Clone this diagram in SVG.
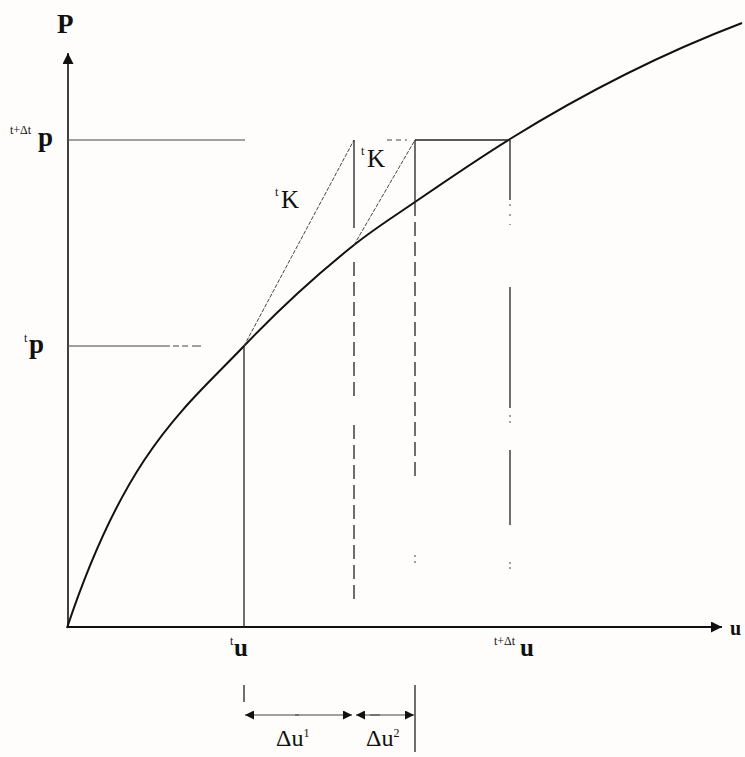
<svg xmlns="http://www.w3.org/2000/svg" width="745" height="757" viewBox="0 0 745 757">
<defs>
<style>
.ax{stroke:#111;fill:none}
.thin{stroke:#444;stroke-width:1;fill:none}
.tan{stroke:#444;stroke-width:1;fill:none;stroke-dasharray:4 1.5}
.dash{stroke:#222;stroke-width:1.3;fill:none;stroke-dasharray:14 6}
.solid{stroke:#222;stroke-width:1.3;fill:none}
.lbl{font-family:"Liberation Serif","DejaVu Serif",serif;fill:#111}
.big{font-size:27px;font-weight:bold}
.sup{font-size:12px}
</style>
<marker id="arr" viewBox="0 0 10 10" refX="10" refY="5" markerWidth="10" markerHeight="9" markerUnits="userSpaceOnUse" orient="auto">
<path d="M0,0 L10,5 L0,10 Z" fill="#111"/>
</marker>
<marker id="arrBig" viewBox="0 0 10 10" refX="10" refY="5" markerWidth="15" markerHeight="11" markerUnits="userSpaceOnUse" orient="auto">
<path d="M0,0 L10,5 L0,10 Z" fill="#111"/>
</marker>
</defs>
<rect width="745" height="757" fill="#fffdfb"/>

<g id="axes">
<line class="ax" x1="68" y1="628" x2="68" y2="53" stroke-width="1.6" marker-end="url(#arrBig)"/>
<line class="ax" x1="68" y1="627" x2="722" y2="627" stroke-width="2.2" marker-end="url(#arrBig)"/>
</g>

<g id="curve">
<path class="ax" stroke-width="2" d="M67,628 C126,451 185,408 244,346 C280.7,307.5 317.3,274.3 354,245 C374.3,228.7 394.7,216 415,202 C446.7,180.2 478.3,158.6 510,139 C587.3,91.1 664.7,52.4 742,23"/>
</g>

<g id="connectors">
<line class="thin" x1="68" y1="140" x2="245" y2="140"/>
<line class="thin" x1="68" y1="346" x2="170" y2="346"/>
<line class="thin" x1="173" y1="346" x2="188" y2="346" stroke-dasharray="6 3"/>
<line class="thin" x1="192" y1="346" x2="201" y2="346"/>
<line class="solid" x1="244" y1="346" x2="244" y2="627"/>
<line class="tan" x1="244" y1="346" x2="354" y2="140"/>
<line class="solid" x1="354" y1="140" x2="354" y2="228"/>
<line class="dash" x1="354" y1="262" x2="354" y2="400"/>
<line class="dash" x1="354" y1="425" x2="354" y2="600"/>
<line class="tan" x1="354" y1="245" x2="415" y2="140"/>
<line class="thin" x1="387" y1="140" x2="407" y2="140" stroke-dasharray="5 4"/>
<line class="solid" x1="415" y1="140" x2="510" y2="140"/>
<line class="solid" x1="415" y1="140" x2="415" y2="202"/>
<line class="dash" x1="415" y1="202" x2="415" y2="482"/>
<line class="thin" x1="415" y1="555" x2="415" y2="565" stroke-dasharray="2 4"/>
<line class="solid" x1="510" y1="140" x2="510" y2="200"/>
<line class="thin" x1="510" y1="204" x2="510" y2="225" stroke-dasharray="2 8"/>
<line class="solid" x1="510" y1="287" x2="510" y2="408"/>
<line class="thin" x1="510" y1="415" x2="510" y2="425" stroke-dasharray="2 4"/>
<line class="solid" x1="510" y1="450" x2="510" y2="525"/>
<line class="thin" x1="510" y1="562" x2="510" y2="572" stroke-dasharray="2 3"/>
<line class="solid" x1="244" y1="685" x2="244" y2="702"/>
<line class="solid" x1="415" y1="685" x2="415" y2="752"/>
<line class="thin" x1="299" y1="715" x2="245" y2="715" stroke-width="1.3" marker-end="url(#arr)"/>
<line class="thin" x1="295" y1="715" x2="352" y2="715" stroke-width="1.3" marker-end="url(#arr)"/>
<line class="thin" x1="380" y1="715" x2="356" y2="715" stroke-width="1.3" marker-end="url(#arr)"/>
<line class="thin" x1="370" y1="715" x2="414" y2="715" stroke-width="1.3" marker-end="url(#arr)"/>
</g>

<g id="labels">
<text class="lbl big" x="57" y="33">P</text>
<text class="lbl" x="730" y="635" font-size="20" font-weight="bold">u</text>
<text class="lbl sup" x="10" y="134">t+Δt</text>
<text class="lbl big" x="38" y="146">p</text>
<text class="lbl sup" x="24" y="342">t</text>
<text class="lbl big" x="29" y="353">p</text>
<text class="lbl sup" x="275" y="196">t</text>
<text class="lbl" x="281" y="208" font-size="25">K</text>
<text class="lbl sup" x="361" y="155">t</text>
<text class="lbl" x="367" y="167" font-size="25">K</text>
<text class="lbl sup" x="230" y="645">t</text>
<text class="lbl" x="234" y="656" font-size="25" font-weight="bold">u</text>
<text class="lbl sup" x="494" y="645">t+Δt</text>
<text class="lbl" x="520" y="656" font-size="25" font-weight="bold">u</text>
<text class="lbl" x="276" y="746" font-size="24">Δu<tspan font-size="12" dy="-9">1</tspan></text>
<text class="lbl" x="366" y="746" font-size="24">Δu<tspan font-size="12" dy="-9">2</tspan></text>
</g>
</svg>
